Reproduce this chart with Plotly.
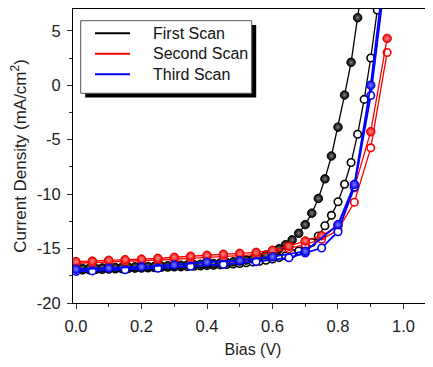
import plotly.graph_objects as go

# ---------------- data ----------------
v_first_filled = [0.00, 0.02, 0.04, 0.06, 0.08, 0.10, 0.12, 0.14, 0.16, 0.18,
                  0.20, 0.22, 0.24, 0.26, 0.28, 0.30, 0.32, 0.34, 0.36, 0.38,
                  0.40, 0.42, 0.44, 0.46, 0.48, 0.50, 0.52, 0.54, 0.56, 0.58,
                  0.60, 0.62, 0.64, 0.66, 0.68, 0.70, 0.72, 0.74, 0.76, 0.78,
                  0.80, 0.82, 0.84, 0.86, 0.88]
j_first_filled = [-16.85, -16.83, -16.82, -16.80, -16.78, -16.76, -16.74, -16.72, -16.70, -16.68,
                  -16.66, -16.64, -16.62, -16.60, -16.58, -16.55, -16.53, -16.50, -16.47, -16.44,
                  -16.41, -16.37, -16.33, -16.28, -16.22, -16.15, -16.06, -15.95, -15.80, -15.60,
                  -15.35, -15.02, -14.65, -14.20, -13.60, -12.80, -11.75, -10.40, -8.60, -6.50,
                  -3.85, -0.90, 2.10, 6.20, 10.40]

v_first_open = [0.00, 0.02, 0.04, 0.06, 0.08, 0.10, 0.12, 0.14, 0.16, 0.18,
                0.20, 0.22, 0.24, 0.26, 0.28, 0.30, 0.32, 0.34, 0.36, 0.38,
                0.40, 0.42, 0.44, 0.46, 0.48, 0.50, 0.52, 0.54, 0.56, 0.58,
                0.60, 0.62, 0.64, 0.66, 0.68, 0.70, 0.72, 0.74, 0.76, 0.78,
                0.80, 0.82, 0.84, 0.86, 0.88, 0.90, 0.92, 0.94]
j_first_open = [-17.00, -16.98, -16.96, -16.94, -16.92, -16.90, -16.88, -16.86, -16.84, -16.82,
                -16.80, -16.78, -16.76, -16.74, -16.72, -16.70, -16.68, -16.66, -16.63, -16.60,
                -16.57, -16.54, -16.50, -16.46, -16.42, -16.37, -16.31, -16.24, -16.16, -16.07,
                -15.96, -15.83, -15.67, -15.47, -15.22, -14.90, -14.45, -13.85, -12.90, -11.95,
                -10.70, -9.10, -7.10, -4.50, -1.30, 2.50, 6.90, 11.50]

v_second = [0.00, 0.05, 0.10, 0.15, 0.20, 0.25, 0.30, 0.35, 0.40, 0.45,
            0.50, 0.55, 0.60, 0.65, 0.70, 0.75, 0.80, 0.85, 0.90, 0.95]
j_second_filled = [-16.20, -16.15, -16.08, -16.02, -15.97, -15.90, -15.80, -15.70, -15.62, -15.52,
                   -15.44, -15.35, -15.15, -14.78, -14.30, -13.82, -12.90, -9.40, -4.27, 4.30]
j_second_open = [-16.35, -16.30, -16.24, -16.18, -16.12, -16.06, -15.98, -15.90, -15.82, -15.73,
                 -15.65, -15.55, -15.38, -15.02, -14.62, -14.15, -13.30, -10.75, -5.75, 3.00]

v_third_filled = [0.00, 0.10, 0.20, 0.30, 0.40, 0.50, 0.60, 0.70, 0.80, 0.85, 0.90, 0.95]
j_third_filled = [-16.90, -16.80, -16.68, -16.50, -16.25, -16.10, -15.75, -15.25, -12.80, -9.10, 0.00, 12.50]

v_third_open = [0.00, 0.05, 0.15, 0.25, 0.35, 0.45, 0.55, 0.65, 0.70, 0.75, 0.80, 0.85, 0.90, 0.95]
j_third_open = [-17.10, -17.05, -16.95, -16.80, -16.62, -16.45, -16.20, -15.85, -15.40, -14.95,
                -13.45, -9.35, -0.95, 11.30]

scan_names = ["First Scan", "Second Scan", "Third Scan"]
scan_colors = ["#000000", "#ff0000", "#0000ff"]
edge_colors = ["#000000", "#d00000", "#0000d0"]
glow_colors = ["#808080", "#ff9090", "#8080ff"]

x_ticks = [0.0, 0.2, 0.4, 0.6, 0.8, 1.0]
x_ticktext = ["0.0", "0.2", "0.4", "0.6", "0.8", "1.0"]
x_minor = [0.1, 0.3, 0.5, 0.7, 0.9]
y_ticks = [-20, -15, -10, -5, 0, 5]
y_ticktext = ["-20", "-15", "-10", "-5", "0", "5"]
y_minor = [-17.5, -12.5, -7.5, -2.5, 2.5]

series = [
    (v_first_open, j_first_open, 0, False),
    (v_first_filled, j_first_filled, 0, True),
    (v_second, j_second_open, 1, False),
    (v_second, j_second_filled, 1, True),
    (v_third_open, j_third_open, 2, False),
    (v_third_filled, j_third_filled, 2, True),
]

FONT = "Arial, Liberation Sans, sans-serif"

fig = go.Figure()
for xs, ys, k, filled in series:
    lw = 1.8 if k == 2 else 1.3
    if filled:
        marker = dict(symbol="circle", size=8.5, color=scan_colors[k],
                      gradient=dict(type="radial", color=glow_colors[k]),
                      line=dict(color=edge_colors[k], width=1))
    else:
        marker = dict(symbol="circle", size=7.5, color="white",
                      line=dict(color=scan_colors[k], width=1.6))
    fig.add_trace(go.Scatter(x=xs, y=ys, mode="lines+markers",
                             name=scan_names[k],
                             line=dict(color=scan_colors[k], width=lw),
                             marker=marker, showlegend=False, cliponaxis=True))

# ---- legend box (drawn like the original: framed box with drop shadow) ----
leg_x0, leg_x1, leg_y0, leg_y1 = 0.0214, 0.4964, 0.7133, 0.9602
shadow_dx, shadow_dy = 0.0125, 0.0143
leg_line_x0, leg_line_x1, leg_text_x = 0.0611, 0.1583, 0.2167
leg_rows = [0.9173, 0.8476, 0.7782]

shapes = [
    dict(type="rect", xref="paper", yref="paper",
         x0=leg_x0 + shadow_dx, x1=leg_x1 + shadow_dx,
         y0=leg_y0 - shadow_dy, y1=leg_y1 - shadow_dy,
         fillcolor="black", line=dict(width=0), layer="above"),
    dict(type="rect", xref="paper", yref="paper",
         x0=leg_x0, x1=leg_x1, y0=leg_y0, y1=leg_y1,
         fillcolor="white", line=dict(color="#555", width=1), layer="above"),
]
annotations = []
for k in range(3):
    shapes.append(dict(type="line", xref="paper", yref="paper",
                       x0=leg_line_x0, x1=leg_line_x1, y0=leg_rows[k], y1=leg_rows[k],
                       line=dict(color=scan_colors[k], width=2), layer="above"))
    annotations.append(dict(text=scan_names[k], xref="paper", yref="paper",
                            x=leg_text_x, y=leg_rows[k], xanchor="left", yanchor="middle",
                            showarrow=False, font=dict(family=FONT, size=16, color="#111")))

fig.update_layout(
    width=425, height=359,
    margin=dict(l=65, r=0, t=1, b=64),
    paper_bgcolor="white", plot_bgcolor="white",
    font=dict(family=FONT, size=16, color="#222"),
    showlegend=False,
    xaxis=dict(range=[-0.00916, 1.0901], showgrid=False, zeroline=False,
               showline=True, linecolor="black", linewidth=1, mirror=True,
               ticks="outside", ticklen=5, tickwidth=1, tickcolor="#333",
               tickvals=x_ticks, ticktext=x_ticktext, ticklabelstandoff=3,
               minor=dict(tickvals=x_minor, ticks="outside", ticklen=3, tickcolor="#333"),
               tickfont=dict(size=16.5),
               title=dict(text="Bias (V)", font=dict(size=16), standoff=10)),
    yaxis=dict(range=[-20, 7], showgrid=False, zeroline=False,
               showline=True, linecolor="black", linewidth=1,
               ticks="outside", ticklen=5, tickwidth=1, tickcolor="#333",
               tickvals=y_ticks, ticktext=y_ticktext, ticklabelstandoff=3,
               minor=dict(tickvals=y_minor, ticks="outside", ticklen=3, tickcolor="#333"),
               tickfont=dict(size=16.5),
               title=dict(text="Current Density (mA/cm<sup>2</sup>)", font=dict(size=17),
                          standoff=8)),
    shapes=shapes,
    annotations=annotations,
)

fig.write_html("out.html")
